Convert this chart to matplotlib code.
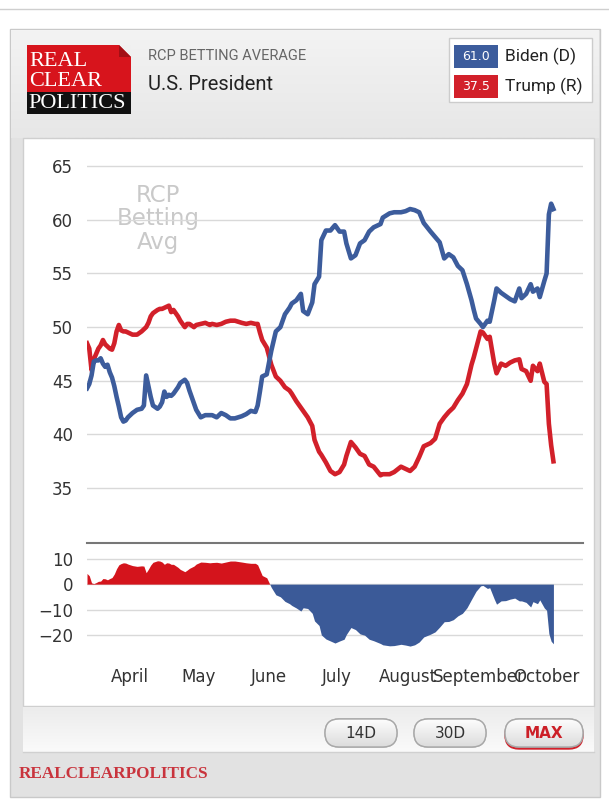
import numpy as np
import matplotlib
matplotlib.use('Agg')
import matplotlib.pyplot as plt
from matplotlib.patches import Rectangle, FancyBboxPatch, Polygon
from matplotlib.colors import to_rgb

# --- data (2020) ---
start = np.datetime64('2020-03-13')
days = [0, 1, 2, 3, 4, 5, 6, 7, 8, 9, 10, 11, 12, 13, 14, 15, 16, 17, 18, 20,
        22, 24, 25, 26, 27, 28, 29, 31, 32, 33, 34, 35, 36, 37, 38, 40, 41, 43, 44, 45,
        47, 48, 50, 52, 54, 55, 57, 59, 61, 63, 65, 68, 70, 72, 74, 75, 76, 77, 79, 81,
        83, 85, 87, 89, 90, 92, 94, 95, 97, 99, 100, 102, 103, 105, 107, 109, 111, 113, 114, 116,
        118, 120, 122, 124, 126, 129, 130, 133, 135, 138, 140, 142, 144, 146, 148, 151, 153, 155, 157, 159,
        161, 163, 165, 167, 169, 170, 171, 173, 174, 176, 177, 179, 180, 182, 184, 186, 188, 190, 191, 193,
        195, 196, 198, 199, 201, 202, 203, 204, 205]
biden = [44.3, 44.7, 45.5, 46.8, 46.9, 46.9, 47.1, 46.6, 46.3, 46.5, 45.8, 45.3, 44.5, 43.5, 42.6, 41.6, 41.2, 41.3, 41.6, 42.0,
         42.3, 42.4, 42.7, 45.5, 44.5, 43.5, 42.7, 42.4, 42.6, 43.0, 44.0, 43.5, 43.7, 43.6, 43.8, 44.4, 44.8, 45.1, 44.8, 44.1,
         42.9, 42.3, 41.6, 41.8, 41.8, 41.8, 41.6, 42.0, 41.8, 41.5, 41.5, 41.7, 41.9, 42.2, 42.1, 42.7, 44.0, 45.4, 45.6, 47.8,
         49.6, 50.0, 51.2, 51.8, 52.2, 52.5, 53.1, 51.5, 51.2, 52.3, 54.0, 54.7, 58.1, 59.0, 59.0, 59.5, 58.9, 58.9, 57.8, 56.4,
         56.7, 57.8, 58.1, 58.9, 59.3, 59.6, 60.2, 60.6, 60.7, 60.7, 60.8, 61.0, 60.9, 60.7, 59.7, 58.9, 58.4, 57.9, 56.4, 56.8,
         56.5, 55.7, 55.3, 54.0, 52.5, 51.6, 50.8, 50.3, 50.0, 50.6, 50.5, 52.5, 53.6, 53.2, 52.9, 52.6, 52.4, 53.6, 52.7, 53.1,
         54.0, 53.3, 53.6, 52.8, 54.3, 55.0, 60.5, 61.5, 61.0]
trump = [48.5, 48.0, 46.0, 47.0, 47.5, 48.0, 48.3, 48.8, 48.4, 48.2, 48.0, 47.9, 48.5, 49.6, 50.2, 49.7, 49.6, 49.6, 49.5, 49.3,
         49.3, 49.6, 49.8, 50.0, 50.4, 51.0, 51.3, 51.6, 51.7, 51.7, 51.8, 51.9, 52.0, 51.4, 51.6, 51.0, 50.6, 50.0, 50.3, 50.3,
         50.0, 50.2, 50.3, 50.4, 50.2, 50.3, 50.2, 50.3, 50.5, 50.6, 50.6, 50.4, 50.3, 50.4, 50.3, 50.3, 49.5, 48.8, 48.1, 46.5,
         45.4, 45.0, 44.4, 44.1, 43.8, 43.1, 42.5, 42.2, 41.6, 40.8, 39.5, 38.4, 38.1, 37.4, 36.6, 36.3, 36.5, 37.2, 38.0, 39.3,
         38.8, 38.2, 38.0, 37.2, 37.0, 36.2, 36.3, 36.3, 36.5, 37.0, 36.8, 36.6, 37.0, 37.9, 38.9, 39.2, 39.6, 41.0, 41.6, 42.1,
         42.5, 43.2, 43.8, 44.7, 46.5, 47.2, 48.0, 49.6, 49.5, 48.9, 49.1, 46.6, 45.7, 46.6, 46.4, 46.7, 46.9, 47.0, 46.1, 45.9,
         45.0, 46.4, 45.9, 46.6, 44.9, 44.7, 41.0, 39.0, 37.5]

month_starts = ['2020-04-01', '2020-05-01', '2020-06-01', '2020-07-01',
                '2020-08-01', '2020-09-01', '2020-10-01']
month_names = ['April', 'May', 'June', 'July', 'August', 'September', 'October']
main_yticks = [35, 40, 45, 50, 55, 60, 65]
spread_yticks = [-20, -10, 0, 10]
button_labels = ['14D', '30D', 'MAX']

BLUE = '#3c5c9c'
RED = '#d2202a'
GRID = '#d9d9d9'

dates = start + np.array(days).astype('timedelta64[D]')
spread = np.array(trump) - np.array(biden)

W, H = 609, 799
fig = plt.figure(figsize=(W / 100, H / 100), dpi=100)
fig.patch.set_facecolor('white')

# background axes in pixel coordinates
bg = fig.add_axes([0, 0, 1, 1], zorder=0)
bg.axis('off')


def gradient(x0, x1, y0, y1, c_top, c_bot, clip=None, z=1):
    t = np.linspace(0, 1, 64)[:, None, None]
    img = (1 - t) * np.array(to_rgb(c_top)) + t * np.array(to_rgb(c_bot))
    im = bg.imshow(img, extent=[x0, x1, y1, y0], aspect='auto', zorder=z,
                   interpolation='bilinear')
    if clip is not None:
        im.set_clip_path(clip)
    return im


bg.plot([0, W], [9, 9], color='#cfcfcf', lw=1, zorder=1)
bg.add_patch(Rectangle((10, 29), 590, 768, facecolor='#e2e2e2', edgecolor='#c9c9c9', lw=1, zorder=1))
gradient(11, 599, 30, 138, '#f3f3f3', '#e7e7e7', z=2)
bg.add_patch(Rectangle((23, 138), 571, 568, facecolor='white', edgecolor='#cfcfcf', lw=1, zorder=2))
gradient(23, 594, 707, 752, '#ececec', '#fafafa', z=2)
bg.plot([23, 594], [752, 752], color='#d0d0d0', lw=1, zorder=3)

# logo
bg.add_patch(Rectangle((27, 45), 104, 48, facecolor='#d7141c', lw=0, zorder=3))
bg.add_patch(Rectangle((27, 92), 104, 22, facecolor='#111111', lw=0, zorder=3))
bg.add_patch(Polygon([(119, 45), (131, 45), (131, 57)], closed=True, facecolor='#f0f0f0', lw=0, zorder=4))
bg.add_patch(Polygon([(119, 45), (131, 57), (119, 57)], closed=True, facecolor='#a30f15', lw=0, zorder=4))
bg.text(29, 62, 'REAL', family='Liberation Serif', fontsize=16, color='white', va='center', zorder=5)
bg.text(29, 81, 'CLEAR', family='Liberation Serif', fontsize=16, color='white', va='center', zorder=5)
bg.text(28, 103, 'POLITICS', family='Liberation Serif', fontsize=16, color='white', va='center', zorder=5)

bg.text(148, 56, 'RCP BETTING AVERAGE', family='Roboto', fontsize=10.5, color='#666666', va='center', zorder=5)
bg.text(148, 84, 'U.S. President', family='Roboto', fontsize=14.5, color='#222222', va='center', zorder=5)

# legend box
bg.add_patch(Rectangle((449, 38), 143, 64, facecolor='white', edgecolor='#cccccc', lw=1, zorder=3))
for y0, col, val, name in [(45, BLUE, biden[-1], 'Biden (D)'), (75, RED, trump[-1], 'Trump (R)')]:
    bg.add_patch(Rectangle((454, y0), 44, 23, facecolor=col, lw=0, zorder=4))
    bg.text(476, y0 + 11.5, f'{val:.1f}', family='DejaVu Sans', fontsize=9, color='white',
            ha='center', va='center', zorder=5)
    bg.text(505, y0 + 11, name, family='Roboto', fontsize=12.5, color='#222222', va='center', zorder=5)

# watermark
bg.text(158, 219, 'RCP\nBetting\nAvg', family='DejaVu Sans', fontsize=16.5, color='#c9c9c9',
        ha='center', va='center', linespacing=1.05, zorder=3)

# buttons
for (cx, w), label in zip([(361, 72), (450, 72), (544, 78)], button_labels):
    if label == 'MAX':
        bg.add_patch(FancyBboxPatch((cx - w / 2, 721), w, 28, boxstyle='round,pad=0,rounding_size=14',
                                    facecolor=RED, edgecolor=RED, lw=1, zorder=3))
    box = FancyBboxPatch((cx - w / 2, 719), w, 28, boxstyle='round,pad=0,rounding_size=14',
                         facecolor='#eeeeee', edgecolor='#a8a8a8', lw=1, zorder=4)
    bg.add_patch(box)
    gradient(cx - w / 2, cx + w / 2, 719, 747, '#fdfdfd', '#dcdcdc', clip=box, z=4)
    bg.add_patch(FancyBboxPatch((cx - w / 2, 719), w, 28, boxstyle='round,pad=0,rounding_size=14',
                                facecolor='none', edgecolor='#a8a8a8', lw=1, zorder=5))
    if label == 'MAX':
        bg.text(cx, 733, label, family='DejaVu Sans', fontsize=11, fontweight='bold', color='#cc1f27',
                ha='center', va='center', zorder=6)
    else:
        bg.text(cx, 733, label, family='DejaVu Sans', fontsize=11, color='#333333',
                ha='center', va='center', zorder=6)

bg.text(19, 774, 'REALCLEARPOLITICS', family='Liberation Serif', fontweight='bold', fontsize=12.3,
        color='#c9343d', va='center', zorder=5)

bg.set_xlim(0, W)
bg.set_ylim(H, 0)

# main chart
x_end = start + np.timedelta64(218, 'D')
ax = fig.add_axes([87 / W, 1 - 515 / H, 496 / W, 365 / H], zorder=5)
ax.set_facecolor('none')
ax.plot(dates, trump, color=RED, lw=3.3, zorder=3)
ax.plot(dates, biden, color=BLUE, lw=3.3, zorder=4)
ax.set_xlim(start, x_end)
ax.set_ylim(32.5, 66.5)
ax.set_yticks(main_yticks)
ax.set_xticks([])
ax.grid(axis='y', color=GRID, lw=1)
ax.set_axisbelow(True)
ax.tick_params(axis='y', length=0, pad=10, labelsize=12, labelcolor='#333333')
for s in ax.spines.values():
    s.set_visible(False)

# spread chart (Trump minus Biden)
ax2 = fig.add_axes([87 / W, 1 - 657 / H, 496 / W, 114 / H], zorder=5)
ax2.set_facecolor('none')
ax2.fill_between(dates, spread, 0, where=spread >= 0, interpolate=True, color='#d4141c', lw=0)
ax2.fill_between(dates, spread, 0, where=spread <= 0, interpolate=True, color='#3b5a98', lw=0)
ax2.set_xlim(start, x_end)
ax2.set_ylim(-28.7, 16.2)
ax2.set_yticks(spread_yticks)
ax2.set_xticks(np.array(month_starts, dtype='datetime64[D]'))
ax2.set_xticklabels(month_names)
ax2.grid(axis='y', color=GRID, lw=1)
ax2.set_axisbelow(True)
ax2.tick_params(axis='both', length=0, labelsize=12, labelcolor='#333333')
ax2.tick_params(axis='y', pad=10)
ax2.tick_params(axis='x', pad=8)
for k, s in ax2.spines.items():
    s.set_visible(k == 'top')
ax2.spines['top'].set_color('#777777')
ax2.spines['top'].set_linewidth(1.5)

fig.savefig('out.png', dpi=100)
